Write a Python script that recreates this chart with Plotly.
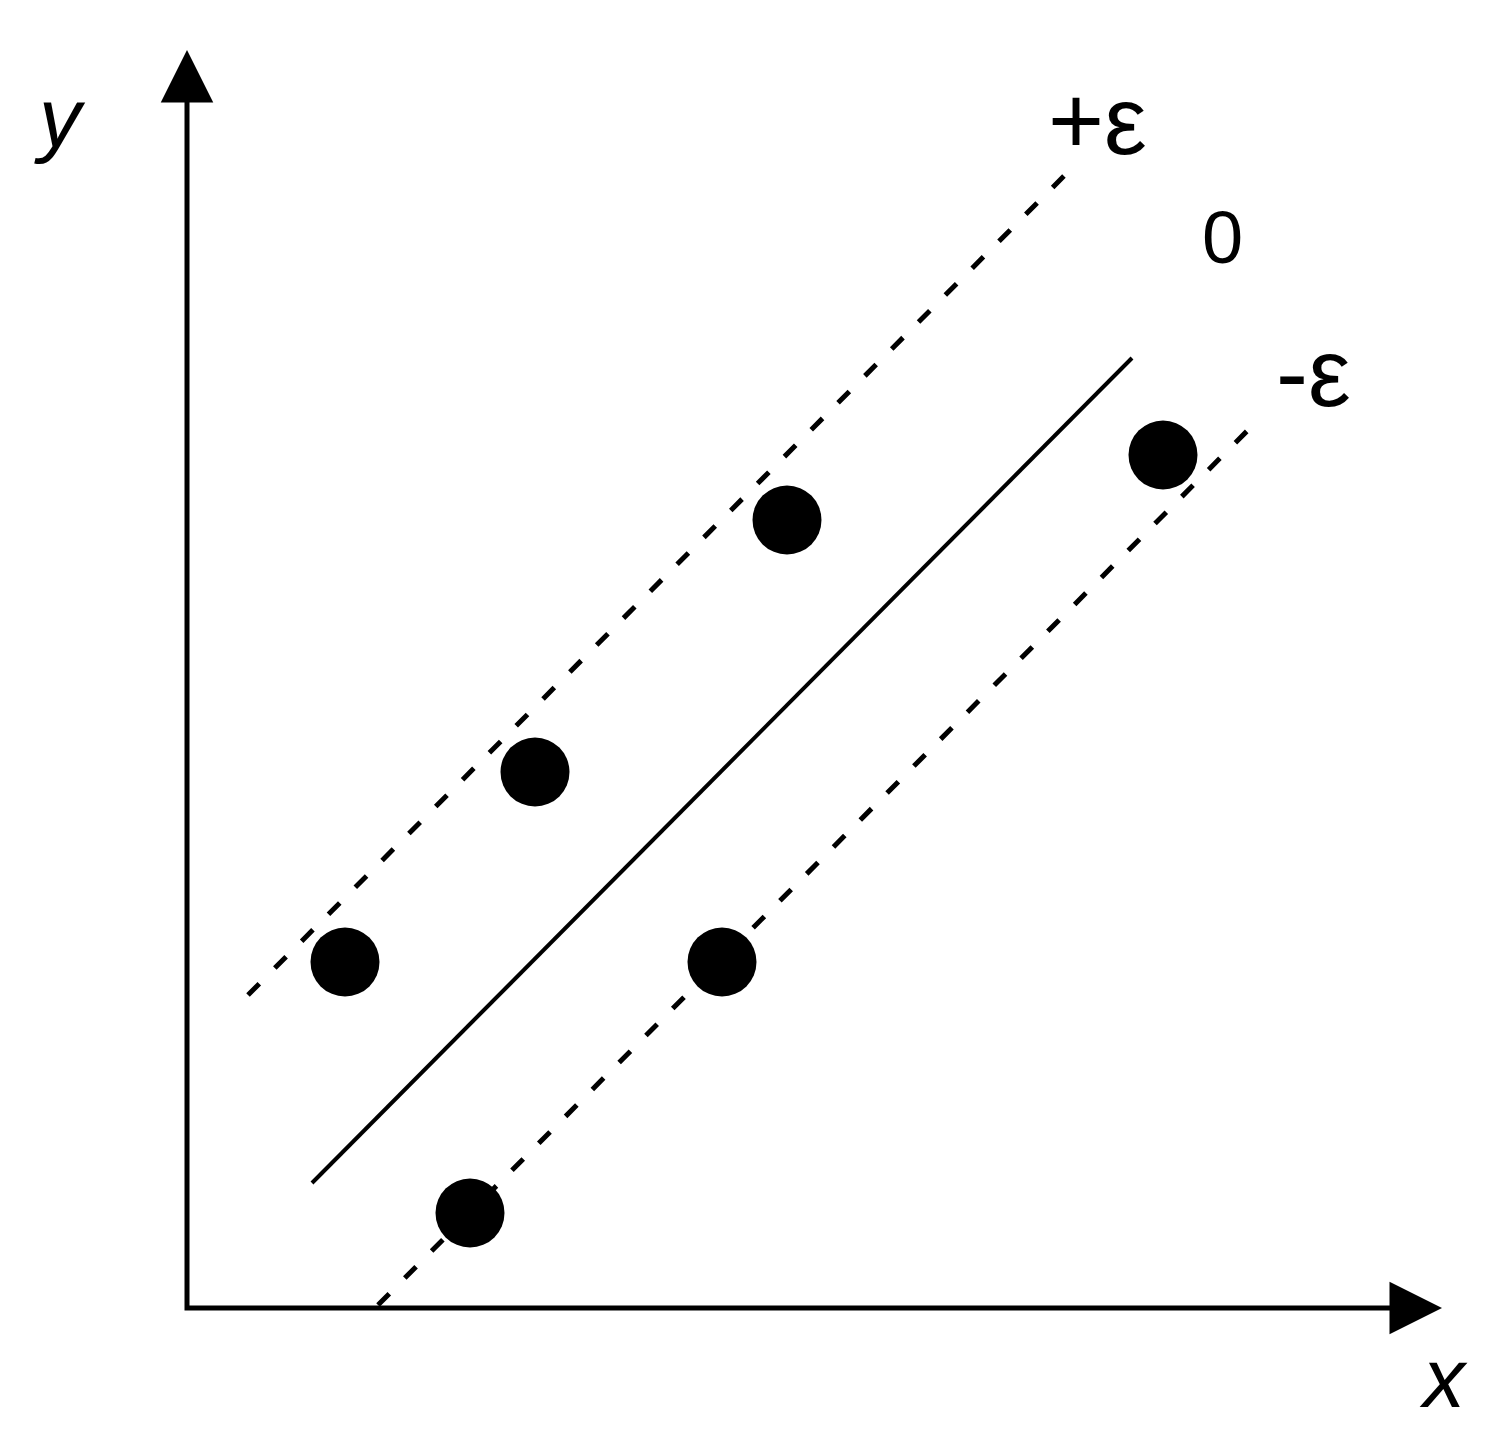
import plotly.graph_objects as go

# axis units: origin at the corner of the two axes, 1 unit = 100 px
x_axis_end = 12.55
y_axis_end = 12.58

# the three lines of the epsilon tube (start, end)
upper_x = [0.61, 8.83]
upper_y = [3.13, 11.38]
middle_x = [1.25, 9.45]
middle_y = [1.25, 9.50]
lower_x = [1.91, 10.71]
lower_y = [0.03, 8.88]

# data points
pts_x = [1.58, 3.48, 6.00, 5.35, 2.83, 9.76]
pts_y = [3.46, 5.36, 7.88, 3.46, 0.95, 8.53]

# labels
line_labels = ['+ε', '0', '-ε']
line_label_x = [9.10, 10.35, 11.26]
line_label_y = [11.88, 10.71, 9.36]
line_label_size = [96, 74, 96]

fig = go.Figure()

# axes (L shape)
fig.add_trace(go.Scatter(
    x=[0, 0, x_axis_end - 0.3], y=[y_axis_end - 0.3, 0, 0],
    mode='lines', line=dict(color='black', width=5),
    hoverinfo='skip'
))

dash = '16px,22px'
fig.add_trace(go.Scatter(x=upper_x, y=upper_y, mode='lines',
                         line=dict(color='black', width=5, dash=dash)))
fig.add_trace(go.Scatter(x=middle_x, y=middle_y, mode='lines',
                         line=dict(color='black', width=4)))
fig.add_trace(go.Scatter(x=lower_x, y=lower_y, mode='lines',
                         line=dict(color='black', width=5, dash=dash)))

fig.add_trace(go.Scatter(x=pts_x, y=pts_y, mode='markers',
                         marker=dict(color='black', size=69, line=dict(width=0))))

# arrow heads (short stems, hidden under the heads)
for tip, start in [((x_axis_end, 0), (x_axis_end - 0.42, 0)),
                   ((0, y_axis_end), (0, y_axis_end - 0.42))]:
    fig.add_annotation(x=tip[0], y=tip[1], ax=start[0], ay=start[1],
                       xref='x', yref='y', axref='x', ayref='y',
                       text='', showarrow=True, arrowhead=2,
                       arrowsize=2.1, arrowwidth=5, arrowcolor='black')

for t, lx, ly, s in zip(line_labels, line_label_x, line_label_y, line_label_size):
    fig.add_annotation(x=lx, y=ly, text=t, showarrow=False,
                       font=dict(family='Liberation Sans, Arial', size=s, color='black'))

fig.add_annotation(x=-1.27, y=11.90, text='<i>y</i>', showarrow=False,
                   font=dict(family='Liberation Sans, Arial', size=84, color='black'))
fig.add_annotation(x=12.56, y=-0.70, text='<i>x</i>', showarrow=False,
                   font=dict(family='Liberation Sans, Arial', size=84, color='black'))

# ranges shifted by 8 px to make up for the page's body margin
fig.update_layout(
    width=1506, height=1433,
    margin=dict(l=0, r=0, t=0, b=0),
    plot_bgcolor='white', paper_bgcolor='white',
    showlegend=False,
    xaxis=dict(range=[-1.79, 13.27], visible=False, fixedrange=True),
    yaxis=dict(range=[-1.33, 13.00], visible=False, fixedrange=True),
)

fig.write_html("out.html")
